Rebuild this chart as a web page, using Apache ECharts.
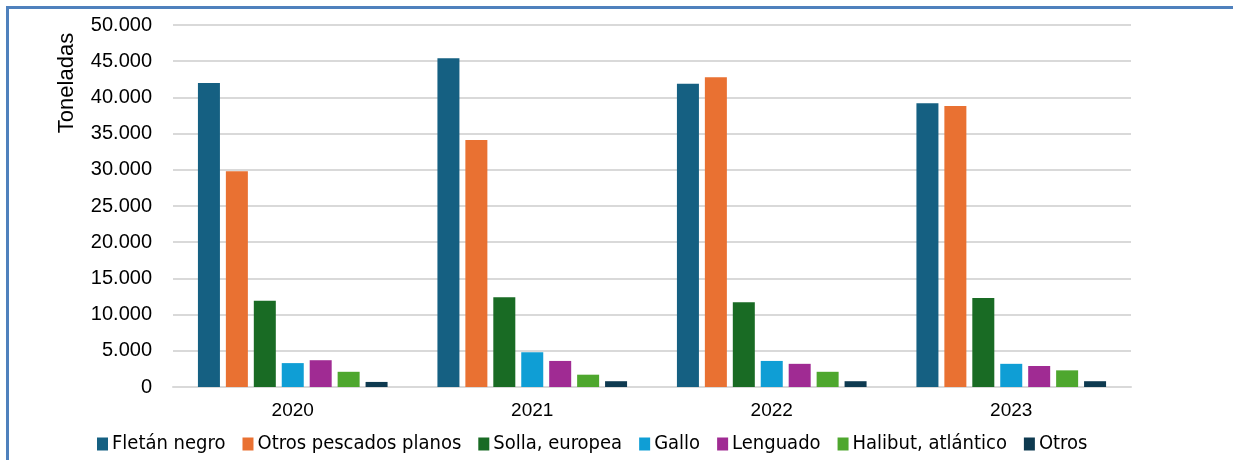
<!DOCTYPE html>
<html>
<head>
<meta charset="utf-8">
<script src="https://cdn.jsdelivr.net/npm/echarts@6/dist/echarts.min.js"></script>
<style>
  html, body { margin: 0; padding: 0; background: #fff; }
  #frame { position: absolute; left: 0; top: 0; width: 1233px; height: 460px; }
  #border { position: absolute; left: 6px; top: 6px; width: 1227px; height: 454px;
            border-left: 3px solid #4f81bd; border-top: 3px solid #4f81bd; box-sizing: border-box; }
  #chart { position: absolute; left: 0; top: 0; width: 1233px; height: 460px; }
</style>
</head>
<body>
<div id="frame">
  <div id="border"></div>
  <div id="chart"></div>
</div>
<script>
// datos (toneladas)
var years = ['2020', '2021', '2022', '2023'];
var fletanNegro = [42000, 45400, 41900, 39200];
var otrosPlanos = [29800, 34100, 42800, 38800];
var solla = [11900, 12400, 11700, 12300];
var gallo = [3300, 4800, 3600, 3200];
var lenguado = [3700, 3600, 3200, 2900];
var halibut = [2100, 1700, 2100, 2300];
var otros = [700, 800, 800, 800];

var seriesNames = ['Fletán negro', 'Otros pescados planos', 'Solla, europea', 'Gallo', 'Lenguado', 'Halibut, atlántico', 'Otros'];
var seriesData = [fletanNegro, otrosPlanos, solla, gallo, lenguado, halibut, otros];
var colors = ['#156082', '#e97132', '#196b24', '#0f9ed5', '#a02b93', '#4ea72e', '#0e3a50'];

function miles(v) {
    return String(v).replace(/\B(?=(\d{3})+(?!\d))/g, '.');
}

let myChart = echarts.init(document.getElementById('chart'));

let option = {
    color: colors,
    animation: false,
    textStyle: { fontFamily: 'Liberation Sans' },
    grid: { left: 173, right: 102, top: 25, bottom: 73 },
    legend: {
        data: seriesNames,
        bottom: 1,
        left: 92,
        icon: 'rect',
        itemWidth: 11,
        itemHeight: 13,
        itemGap: 17,
        textStyle: { fontFamily: '"DejaVu Sans Condensed", "DejaVu Sans", sans-serif', fontSize: 20, color: '#000', padding: [0, 0, 0, -1] }
    },
    graphic: [{
        type: 'text',
        x: 67,
        y: 83,
        rotation: Math.PI / 2,
        style: {
            text: 'Toneladas',
            font: '22px "Liberation Sans"',
            fill: '#000',
            align: 'center',
            verticalAlign: 'middle'
        }
    }],
    xAxis: {
        type: 'category',
        data: years,
        axisTick: { show: false },
        axisLine: { lineStyle: { color: '#d9d9d9', width: 2 } },
        axisLabel: { color: '#000', fontSize: 19, margin: 14 }
    },
    yAxis: {
        type: 'value',
        min: 0,
        max: 50000,
        interval: 5000,
        axisLine: { show: false },
        axisTick: { show: false },
        splitLine: { lineStyle: { color: '#d9d9d9', width: 2 } },
        axisLabel: { color: '#000', fontSize: 20, margin: 21, formatter: miles }
    },
    series: seriesNames.map(function (name, i) {
        return {
            name: name,
            type: 'bar',
            data: seriesData[i],
            barWidth: 22,
            barGap: '27%'
        };
    })
};

myChart.setOption(option);
window.addEventListener('resize', function () {
    myChart.resize();
});
</script>
</body>
</html>
